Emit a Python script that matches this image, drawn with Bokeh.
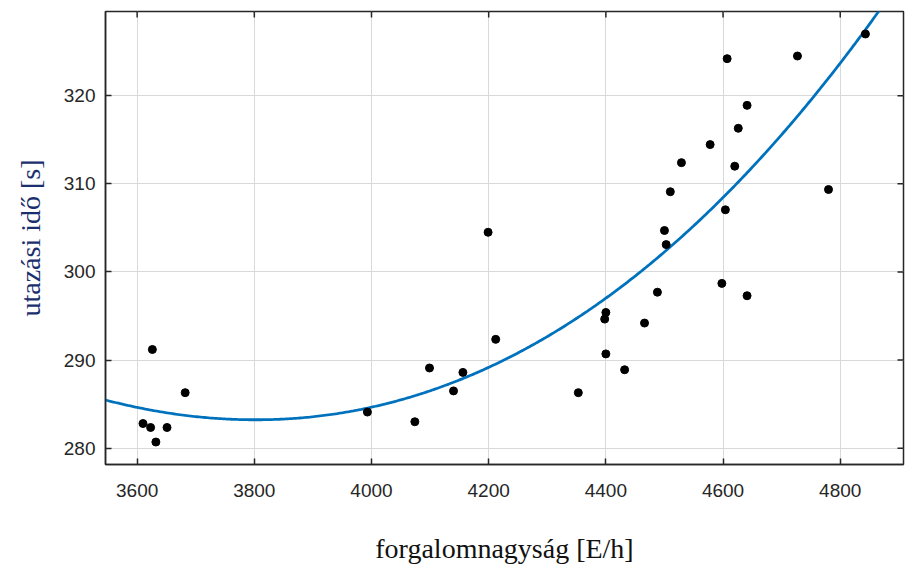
import numpy as np
from bokeh.plotting import figure
from bokeh.models import FixedTicker, Range1d
from bokeh.embed import file_html
from bokeh.resources import INLINE

# scatter data: traffic volume [E/h] vs travel time [s]
flow = [3626, 3682, 3610, 3623, 3651, 3632, 3993,
        4074, 4099, 4140, 4156, 4212, 4353, 4398, 4400, 4400, 4432, 4466,
        4488, 4598, 4641, 4199, 4607, 4727, 4843, 4641, 4626, 4578, 4529,
        4620, 4510, 4780, 4604, 4500, 4503]
travel = [291.2, 286.3, 282.8, 282.35, 282.35, 280.7, 284.1,
          283.0, 289.1, 286.5, 288.6, 292.35, 286.3, 294.65, 295.4, 290.7, 288.9, 294.2,
          297.7, 298.7, 297.3, 304.5, 324.2, 324.5, 327.0, 318.9, 316.3, 314.45, 312.4,
          312.0, 309.1, 309.35, 307.05, 304.7, 303.1]

# fitted curve
curve_x = [3547, 3600, 3800, 4000, 4200, 4400, 4600, 4800, 4863]
curve_y = [285.36, 284.76, 283.25, 284.5, 289.2, 297.2, 308.4, 323.4, 329.55]

x_ticks = [3600, 3800, 4000, 4200, 4400, 4600, 4800]
y_ticks = [280, 290, 300, 310, 320]
x_lim = (3546, 4908)
y_lim = (278.15, 329.55)

p = figure(width=907, height=567, output_backend="svg", toolbar_location=None,
           x_range=Range1d(*x_lim), y_range=Range1d(*y_lim),
           min_border_left=105, min_border_right=4, min_border_top=11, min_border_bottom=103,
           x_axis_label="forgalomnagyság [E/h]", y_axis_label="utazási idő [s]")
p.outline_line_color = "#262626"
p.outline_line_width = 1.5
p.background_fill_color = "white"
p.border_fill_color = "white"

for g in (p.xgrid, p.ygrid):
    g.grid_line_color = "#d9d9d9"
    g.grid_line_width = 1
p.xgrid.ticker = FixedTicker(ticks=x_ticks)
p.ygrid.ticker = FixedTicker(ticks=y_ticks)

ax = p.xaxis[0]
ay = p.yaxis[0]
ax.ticker = FixedTicker(ticks=x_ticks)
ay.ticker = FixedTicker(ticks=y_ticks)
for a in (ax, ay):
    a.axis_line_color = "#262626"
    a.axis_line_width = 1.5
    a.major_tick_in = 6
    a.major_tick_out = 0
    a.major_tick_line_color = "#262626"
    a.major_tick_line_width = 1.5
    a.minor_tick_line_color = None
    a.major_label_text_font = "Liberation Sans"
    a.major_label_text_font_size = "19px"
    a.major_label_text_color = "#262626"
    a.axis_label_text_font = "Liberation Serif"
    a.axis_label_text_font_style = "normal"
    a.axis_label_text_font_size = "28px"
ax.major_label_standoff = 19
ax.axis_label_standoff = 33
ax.axis_label_text_color = "#111111"
ay.major_label_standoff = 10
ay.axis_label_standoff = 15
ay.axis_label_text_color = "#1b2f6e"

# mirrored inward ticks on the top and right edges (half of each dash is clipped by the frame)
p.scatter(x_ticks, [y_lim[1]] * len(x_ticks), marker="dash", size=12, angle=np.pi / 2,
          line_color="#262626", line_width=1.5)
p.scatter([x_lim[1]] * len(y_ticks), y_ticks, marker="dash", size=12,
          line_color="#262626", line_width=1.5)

coef = np.polyfit(curve_x, curve_y, 3)
xs = np.linspace(x_lim[0], x_lim[1], 400)
ys = np.polyval(coef, xs)
p.line(xs, ys, line_color="#0072BD", line_width=2.8)

p.scatter(flow, travel, size=8, fill_color="black", line_color="black")

open("out.html", "w").write(file_html(p, INLINE))
